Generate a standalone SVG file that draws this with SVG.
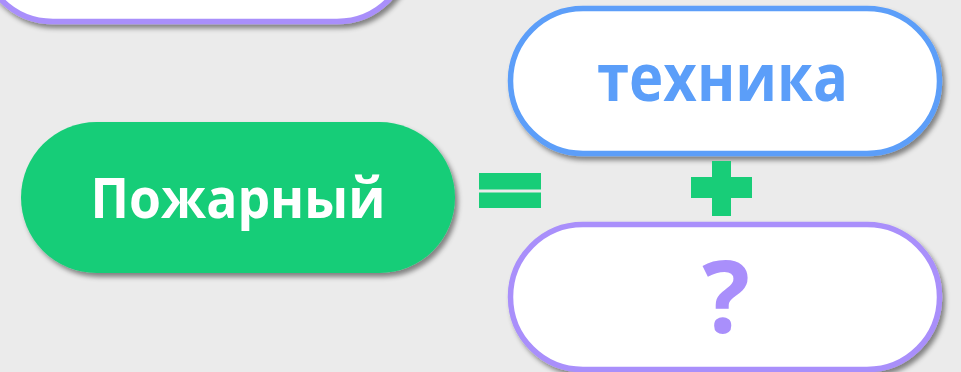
<svg xmlns="http://www.w3.org/2000/svg" width="961" height="372" viewBox="0 0 961 372">
<defs>
<filter id="sh" x="-10%" y="-20%" width="130%" height="150%">
<feDropShadow dx="3" dy="4" stdDeviation="2.5" flood-color="#000" flood-opacity="0.45"/>
</filter>
<style>
.pill{stroke-width:5.5;fill:#ffffff;filter:url(#sh)}
.t{font-family:"Open Sans","Noto Sans","DejaVu Sans",sans-serif;font-weight:700;text-anchor:middle}
.op{fill:#18cd78}
</style>
</defs>
<rect width="961" height="372" fill="#ebebeb"/>
<g id="top-node">
<rect class="pill" x="-19.5" y="-123.5" width="429" height="145" rx="72.5" stroke="#a98ffb"/>
</g>
<g id="firefighter">
<rect x="21" y="122" width="434" height="151" rx="75.5" fill="#18cd78" filter="url(#sh)"/>
<text class="t" x="238" y="218" font-size="56" fill="#ffffff" textLength="295" lengthAdjust="spacingAndGlyphs">Пожарный</text>
</g>
<g id="technika">
<rect class="pill" x="510.5" y="8.5" width="429" height="145" rx="72.5" stroke="#5b9ef9"/>
<text class="t" x="722.5" y="101" font-size="66" fill="#5b9ef9" textLength="251" lengthAdjust="spacingAndGlyphs">техника</text>
</g>
<g id="question">
<rect class="pill" x="510.5" y="224.5" width="429" height="145" rx="72.5" stroke="#a98ffb"/>
<text class="t" x="726" y="333" font-size="100" fill="#a98ffb">?</text>
</g>
<g id="connectors">
<rect class="op" x="479" y="173" width="62" height="16.5"/>
<rect class="op" x="479" y="192.5" width="62" height="15.5"/>
<rect class="op" x="712" y="161" width="19" height="55"/>
<rect class="op" x="691" y="177" width="61" height="21"/>
</g>
</svg>
